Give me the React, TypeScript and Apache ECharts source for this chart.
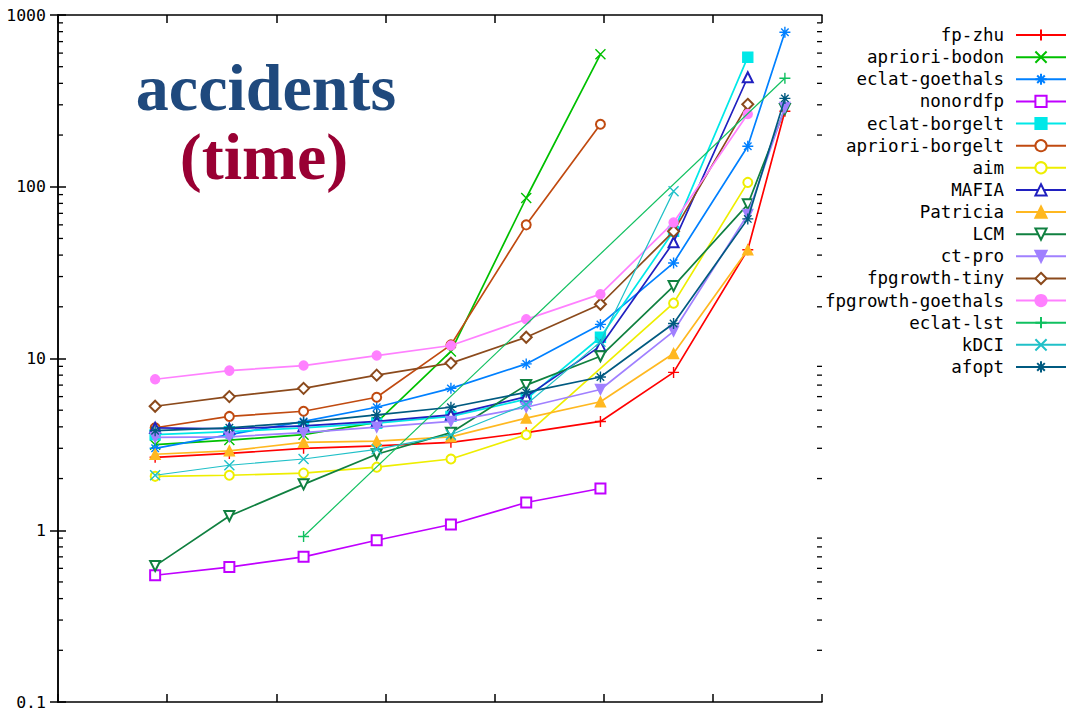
import { useEffect, useRef } from "react";
import * as echarts from "echarts";

// Support levels (plotted positions on the 0..7 x scale, no tick labels shown)
const xPositions = [0.89, 1.57, 2.25, 2.92, 3.6, 4.29, 4.97, 5.64, 6.32, 6.66];

// Run times in seconds per algorithm (null = no run at that support)
const fpZhu = [2.66, 2.8, 3.0, 3.1, 3.25, 3.7, 4.3, 8.3, 43, 275];
const aprioriBodon = [3.15, 3.35, 3.6, 4.25, 11, 86, 590];
const eclatGoethals = [3.0, 3.6, 4.3, 5.2, 6.7, 9.3, 15.8, 36, 172, 794];
const nonordfp = [0.547, 0.61, 0.7, 0.875, 1.08, 1.45, 1.75];
const eclatBorgelt = [3.6, 3.75, 3.95, 4.2, 4.6, 5.8, 13.3, 55, 568];
const aprioriBorgelt = [3.95, 4.6, 4.93, 5.95, 12, 60, 231];
const aim = [2.06, 2.09, 2.15, 2.33, 2.6, 3.6, null, 21, 106];
const mafia = [3.95, 3.9, 4.05, 4.3, 4.7, 6.0, 11.8, 47.5, 434];
const patricia = [2.77, 2.9, 3.25, 3.3, 3.5, 4.5, 5.6, 10.7, 43];
const lcm = [0.62, 1.21, 1.85, 2.77, 3.7, 7.0, 10.3, 26.4, 79, 284];
const ctPro = [3.47, 3.5, 3.7, 3.98, 4.3, 5.2, 6.6, 14.4, 69, 290];
const fpgrowthTiny = [5.27, 6.0, 6.7, 8.0, 9.4, 13.3, 20.7, 55, 302];
const fpgrowthGoethals = [7.57, 8.5, 9.1, 10.4, 11.9, 16.9, 23.7, 62, 265];
const eclatLst = [null, null, 0.92, null, null, null, null, null, null, 428];
const kdci = [2.09, 2.39, 2.6, 2.96, 3.6, 5.4, 12.5, 94];
const afopt = [3.8, 3.95, 4.25, 4.7, 5.2, 6.35, 7.8, 16, 65, 327];

// Log-axis minor ticks
const minorDecades = [0.1, 1, 10, 100];
const minorMultipliers = [2, 3, 4, 5, 6, 7, 8, 9];

const PLUS = "path://M0,5L10,5M5,0L5,10";
const CROSS = "path://M0,0L10,10M10,0L0,10";
const STAR = "path://M0,5L10,5M5,0L5,10M1.6,1.6L8.4,8.4M8.4,1.6L1.6,8.4";

type Spec = {
  name: string;
  values: (number | null)[];
  color: string;
  symbol: string;
  size?: number;
  rotate?: number;
  width?: number;
  connect?: boolean;
};

const specs: Spec[] = [
  { name: "fp-zhu", values: fpZhu, color: "#ff0000", symbol: PLUS, size: 11 },
  { name: "apriori-bodon", values: aprioriBodon, color: "#00c000", symbol: CROSS, size: 10 },
  { name: "eclat-goethals", values: eclatGoethals, color: "#0080ff", symbol: STAR, size: 11 },
  { name: "nonordfp", values: nonordfp, color: "#c000ff", symbol: "emptyRect", size: 10 },
  { name: "eclat-borgelt", values: eclatBorgelt, color: "#00e8e8", symbol: "rect", size: 10 },
  { name: "apriori-borgelt", values: aprioriBorgelt, color: "#c04a10", symbol: "emptyCircle", size: 9 },
  { name: "aim", values: aim, color: "#eeee00", symbol: "emptyCircle", size: 9, connect: true },
  { name: "MAFIA", values: mafia, color: "#2020c0", symbol: "emptyTriangle", size: 10 },
  { name: "Patricia", values: patricia, color: "#ffb820", symbol: "triangle", size: 10 },
  { name: "LCM", values: lcm, color: "#108040", symbol: "emptyTriangle", size: 10, rotate: 180 },
  { name: "ct-pro", values: ctPro, color: "#a080ff", symbol: "triangle", size: 10, rotate: 180 },
  { name: "fpgrowth-tiny", values: fpgrowthTiny, color: "#8b4a1c", symbol: "emptyDiamond", size: 11 },
  { name: "fpgrowth-goethals", values: fpgrowthGoethals, color: "#ff80ff", symbol: "circle", size: 9 },
  { name: "eclat-lst", values: eclatLst, color: "#10c060", symbol: PLUS, size: 11, width: 1.2, connect: true },
  { name: "kDCI", values: kdci, color: "#20c0c8", symbol: CROSS, size: 10, width: 1.2 },
  { name: "afopt", values: afopt, color: "#005a80", symbol: STAR, size: 11 },
];

const X_MIN = 0;
const X_MAX = 7;
const Y_MIN = 0.1;
const Y_MAX = 1000;

export default function App() {
  const ref = useRef<HTMLDivElement>(null);

  useEffect(() => {
    if (!ref.current) return;
    const chart = echarts.init(ref.current, undefined, { renderer: "svg" });

    const monoFont = "DejaVu Sans Mono";

    const series = specs.map((s, idx) => ({
      type: "line",
      name: s.name,
      data: s.values.map((v, i) => [xPositions[i], v == null ? "-" : v]),
      connectNulls: !!s.connect,
      symbol: s.symbol,
      symbolSize: s.size ?? 10,
      symbolRotate: s.rotate ?? 0,
      showAllSymbol: true,
      lineStyle: { color: s.color, width: s.width ?? 1.7 },
      itemStyle: { color: s.color, borderColor: s.color, borderWidth: 1.4 },
      emphasis: { disabled: true },
      silent: true,
      z: 2 + idx * 0.01,
    }));

    const baseX = {
      type: "value",
      min: X_MIN,
      max: X_MAX,
      interval: 1,
      axisLabel: { show: false },
      axisLine: { show: true, lineStyle: { color: "#000", width: 1.5 } },
      axisTick: { show: true, inside: true, length: 8, lineStyle: { color: "#000", width: 1.5 } },
      splitLine: { show: false },
    };
    const baseY = {
      type: "log",
      logBase: 10,
      min: Y_MIN,
      max: Y_MAX,
      axisLine: { show: true, lineStyle: { color: "#000", width: 1.5 } },
      axisTick: { show: true, inside: true, length: 8, lineStyle: { color: "#000", width: 1.5 } },
      splitLine: { show: false },
    };

    chart.setOption({
      animation: false,
      backgroundColor: "#ffffff",
      grid: { left: 58, right: 245, top: 15, bottom: 10, containLabel: false },
      xAxis: [
        { ...baseX, position: "bottom" },
        { ...baseX, position: "top" },
      ],
      yAxis: [
        {
          ...baseY,
          position: "left",
          axisLabel: {
            show: true,
            color: "#000",
            fontFamily: monoFont,
            fontSize: 16.5,
            margin: 12,
            formatter: (v: number) => String(v),
          },
        },
        { ...baseY, position: "right", axisLabel: { show: false } },
      ],
      legend: {
        orient: "vertical",
        right: 0,
        top: 26,
        align: "right",
        itemWidth: 50,
        itemHeight: 14,
        itemGap: 4.13,
        padding: 0,
        selectedMode: false,
        textStyle: {
          fontFamily: monoFont,
          fontSize: 17.5,
          color: "#000",
          lineHeight: 14,
          padding: [0, 7, 0, 0],
        },
        data: specs.map((s) => s.name),
      },
      series,
    });

    // Minor ticks of the log axis on both sides, placed through the axis scale
    const xl = chart.convertToPixel({ xAxisIndex: 0 }, X_MIN) as number;
    const xr = chart.convertToPixel({ xAxisIndex: 0 }, X_MAX) as number;
    const ticks: any[] = [];
    minorDecades.forEach((d) => {
      minorMultipliers.forEach((m) => {
        const y = chart.convertToPixel({ yAxisIndex: 0 }, d * m) as number;
        ticks.push({
          type: "line",
          shape: { x1: xl, y1: y, x2: xl + 5, y2: y },
          style: { stroke: "#000", lineWidth: 1.3 },
          silent: true,
        });
        ticks.push({
          type: "line",
          shape: { x1: xr, y1: y, x2: xr - 5, y2: y },
          style: { stroke: "#000", lineWidth: 1.3 },
          silent: true,
        });
      });
    });

    chart.setOption({
      graphic: [
        ...ticks,
        {
          type: "text",
          x: 266,
          y: 87,
          silent: true,
          style: {
            text: "accidents",
            font: "bold 66px 'Liberation Serif', serif",
            fill: "#1f497d",
            align: "center",
            verticalAlign: "middle",
          },
        },
        {
          type: "text",
          x: 264,
          y: 156,
          silent: true,
          style: {
            text: "(time)",
            font: "bold 66px 'Liberation Serif', serif",
            fill: "#990033",
            align: "center",
            verticalAlign: "middle",
          },
        },
      ],
    });

    return () => {
      chart.dispose();
    };
  }, []);

  return (
    <div
      ref={ref}
      style={{ position: "absolute", left: 0, top: 0, width: 1067, height: 712, background: "#fff" }}
    />
  );
}
